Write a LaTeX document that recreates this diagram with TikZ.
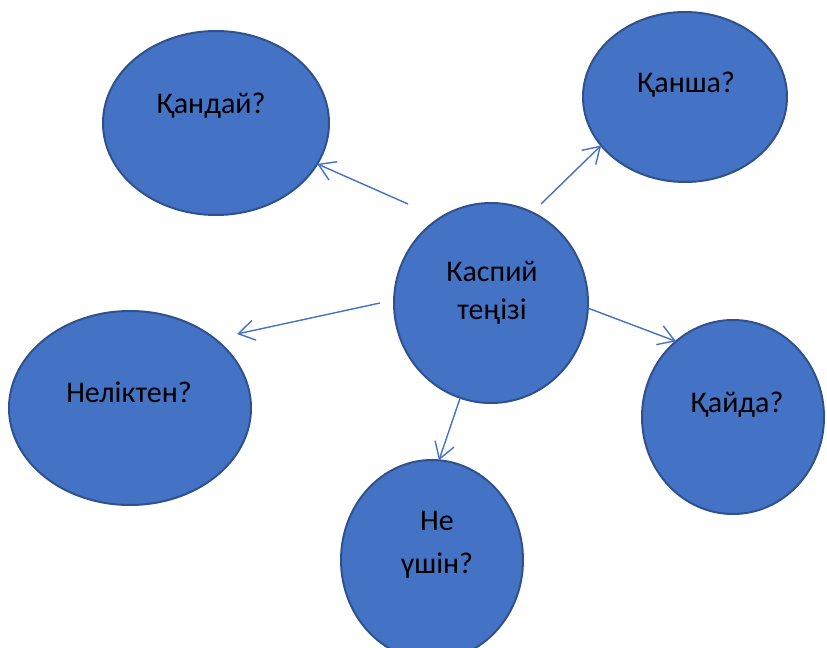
\documentclass[tikz,border=0pt]{standalone}
\usepackage{fontspec}
\setmainfont{Carlito}
\usetikzlibrary{shapes.geometric,arrows.meta}
\definecolor{bubblefill}{HTML}{4472C4}
\definecolor{bubbleline}{HTML}{2F528F}
\tikzset{
	bubble/.style={ellipse, draw=bubbleline, line width=1pt, fill=bubblefill, inner sep=0pt, outer sep=0pt},
	word/.style={font=\fontsize{15}{19.5}\selectfont, align=center, inner sep=0pt, anchor=base},
	link/.style={draw=bubblefill, line width=0.7pt, -{Straight Barb[length=8pt,width=10pt]}}
}
\begin{document}
\begin{tikzpicture}[x=0.5pt, y=-0.5pt]
	\clip (0,0) rectangle (827,648);
	\node[bubble, minimum width=97pt, minimum height=100pt] (kaspiy) at (491,303) {};
	\node[bubble, minimum width=113pt, minimum height=92pt] (qanday) at (216,123) {};
	\node[bubble, minimum width=102pt, minimum height=85pt] (qansha) at (685,97) {};
	\node[bubble, minimum width=121pt, minimum height=97pt] (nelikten) at (130,408) {};
	\node[bubble, minimum width=91pt, minimum height=97pt] (qayda) at (733,417) {};
	\node[bubble, minimum width=91pt, minimum height=100pt] (neushin) at (432,560) {};
	\node[word] (kaspiytext) at (492,320) {Каспий\\теңізі};
	\node[word] (qandaytext) at (211,113) {Қандай?};
	\node[word] (qanshatext) at (686,92) {Қанша?};
	\node[word] (neliktentext) at (129,402) {Неліктен?};
	\node[word] (qaydatext) at (737,412) {Қайда?};
	\node[word] (neushintext) at (437,573) {Не\\[1.5pt]үшін?};
	\coordinate (fromA) at (408,204);
	\coordinate (fromB) at (541,204);
	\coordinate (fromC) at (380,303);
	\coordinate (toC) at (237,334);
	\draw[link] (fromA) -- (qanday.338);
	\draw[link] (fromB) -- (qansha.210);
	\draw[link] (fromC) -- (toC);
	\draw[link] (kaspiy.-3) -- (qayda.127);
	\draw[link] (kaspiy.252) -- (neushin.86);
\end{tikzpicture}
\end{document}
